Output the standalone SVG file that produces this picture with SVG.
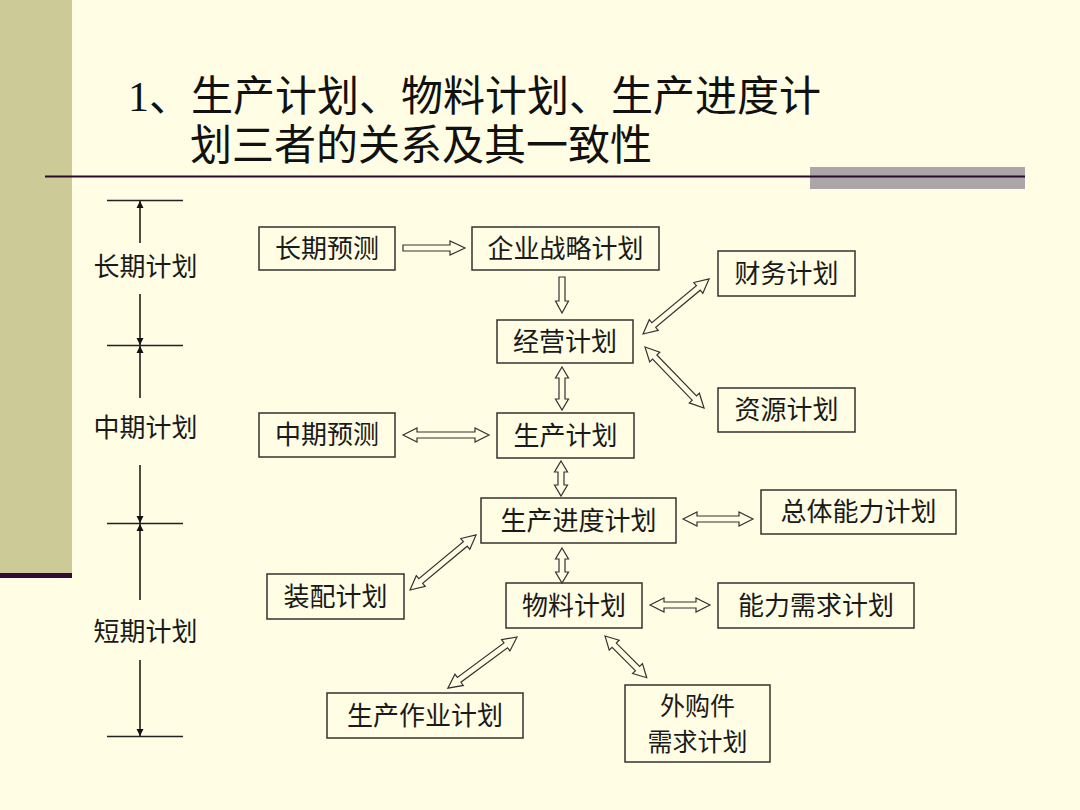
<svg xmlns="http://www.w3.org/2000/svg" width="1080" height="810" viewBox="0 0 1080 810">
<defs>
<style>
.box{fill:none;stroke:#333;stroke-width:1.5}
.t{font-family:"Noto Sans CJK SC","Liberation Sans",sans-serif;font-size:26px;fill:#1a1a1a;text-anchor:middle}
.t2{font-size:25px}
.title{font-family:"Liberation Serif","Noto Sans CJK SC",serif;font-size:42px;fill:#111}
.ar{fill:#FFFDE3;stroke:#333;stroke-width:1.2;stroke-linejoin:miter}
.tl{stroke:#111;stroke-width:1.5;fill:none}
.tk{stroke:#222;stroke-width:1.3}
</style>
<marker id="tri" viewBox="0 0 10 10" refX="10" refY="5" markerWidth="7" markerHeight="10" markerUnits="userSpaceOnUse" orient="auto"><path d="M0,0 L10,5 L0,10 Z" fill="#111"/></marker>
</defs>
<rect width="1080" height="810" fill="#FFFDE3"/>
<rect x="0" y="0" width="72" height="574" fill="#CCCA96"/>
<rect x="0" y="573" width="72" height="5" fill="#330A33"/>
<rect x="810" y="167" width="215" height="22" fill="#ABA6A8"/>
<line x1="45" y1="176.5" x2="1025" y2="176.5" stroke="#2A0A2A" stroke-width="2"/>
<text class="title" x="128" y="111">1、生产计划、物料计划、生产进度计</text>
<text class="title" x="190" y="160">划三者的关系及其一致性</text>

<g id="timeline">
<line class="tk" x1="107" y1="200.5" x2="183" y2="200.5"/>
<line class="tk" x1="107" y1="345.5" x2="183" y2="345.5"/>
<line class="tk" x1="107" y1="523.5" x2="183" y2="523.5"/>
<line class="tk" x1="107" y1="736.5" x2="183" y2="736.5"/>
<line class="tl" x1="140" y1="243" x2="140" y2="201" marker-end="url(#tri)"/>
<line class="tl" x1="140" y1="294" x2="140" y2="345" marker-end="url(#tri)"/>
<line class="tl" x1="140" y1="398" x2="140" y2="346" marker-end="url(#tri)"/>
<line class="tl" x1="140" y1="465" x2="140" y2="523" marker-end="url(#tri)"/>
<line class="tl" x1="140" y1="600" x2="140" y2="524" marker-end="url(#tri)"/>
<line class="tl" x1="140" y1="660" x2="140" y2="736" marker-end="url(#tri)"/>
<text class="t" x="145.5" y="276">长期计划</text>
<text class="t" x="145.5" y="437">中期计划</text>
<text class="t" x="145.5" y="641">短期计划</text>
</g>

<g id="n-changqi-yuce"><rect class="box" x="259" y="227" width="136" height="43"/><text class="t" x="327" y="258">长期预测</text></g>
<g id="n-qiye"><rect class="box" x="472" y="227" width="187" height="43"/><text class="t" x="565.5" y="258">企业战略计划</text></g>
<g id="n-caiwu"><rect class="box" x="718" y="251" width="137" height="45"/><text class="t" x="786.5" y="283">财务计划</text></g>
<g id="n-jingying"><rect class="box" x="497" y="320" width="136" height="43"/><text class="t" x="565" y="351">经营计划</text></g>
<g id="n-ziyuan"><rect class="box" x="718" y="388" width="137" height="44"/><text class="t" x="786.5" y="419">资源计划</text></g>
<g id="n-zhongqi-yuce"><rect class="box" x="259" y="413" width="136" height="44"/><text class="t" x="327" y="444">中期预测</text></g>
<g id="n-shengchan"><rect class="box" x="497" y="413" width="137" height="45"/><text class="t" x="565.5" y="445">生产计划</text></g>
<g id="n-jindu"><rect class="box" x="481" y="498" width="195" height="45"/><text class="t" x="578.5" y="530">生产进度计划</text></g>
<g id="n-zongti"><rect class="box" x="761" y="490" width="195" height="44"/><text class="t" x="858.5" y="521">总体能力计划</text></g>
<g id="n-zhuangpei"><rect class="box" x="267" y="574" width="137" height="45"/><text class="t" x="335.5" y="606">装配计划</text></g>
<g id="n-wuliao"><rect class="box" x="506" y="583" width="136" height="45"/><text class="t" x="574" y="615">物料计划</text></g>
<g id="n-nengli"><rect class="box" x="718" y="583" width="196" height="45"/><text class="t" x="816" y="615">能力需求计划</text></g>
<g id="n-zuoye"><rect class="box" x="327" y="693" width="196" height="45"/><text class="t" x="425" y="725">生产作业计划</text></g>
<g id="n-waigou"><rect class="box" x="625" y="685" width="145" height="77"/><text class="t t2" x="697.5" y="715">外购件</text><text class="t t2" x="697.5" y="751">需求计划</text></g>

<g id="connectors">
<path class="ar" transform="translate(403,248)" d="M0,-3 L47,-3 L47,-7 L62,0 L47,7 L47,3 L0,3 Z"/>
<path class="ar" transform="translate(562,277) rotate(90)" d="M0,-3 L24,-3 L24,-6.5 L36,0 L24,6.5 L24,3 L0,3 Z"/>
<path class="ar" transform="translate(643,334) rotate(-39.8)" d="M0,0 L14,-7 L14,-3 L72,-3 L72,-7 L86,0 L72,7 L72,3 L14,3 L14,7 Z"/>
<path class="ar" transform="translate(645,347) rotate(46)" d="M0,0 L14,-7 L14,-3 L71,-3 L71,-7 L85,0 L71,7 L71,3 L14,3 L14,7 Z"/>
<path class="ar" transform="translate(562,367) rotate(90)" d="M0,0 L11,-6.5 L11,-3 L32,-3 L32,-6.5 L43,0 L32,6.5 L32,3 L11,3 L11,6.5 Z"/>
<path class="ar" transform="translate(403,435)" d="M0,0 L14,-7 L14,-3 L72,-3 L72,-7 L86,0 L72,7 L72,3 L14,3 L14,7 Z"/>
<path class="ar" transform="translate(561,461) rotate(90)" d="M0,0 L11,-6.5 L11,-3 L24,-3 L24,-6.5 L35,0 L24,6.5 L24,3 L11,3 L11,6.5 Z"/>
<path class="ar" transform="translate(683,519)" d="M0,0 L14,-7 L14,-3 L56,-3 L56,-7 L70,0 L56,7 L56,3 L14,3 L14,7 Z"/>
<path class="ar" transform="translate(410,590) rotate(-39.8)" d="M0,0 L14,-7 L14,-3 L72,-3 L72,-7 L86,0 L72,7 L72,3 L14,3 L14,7 Z"/>
<path class="ar" transform="translate(562,548) rotate(90)" d="M0,0 L11,-6.5 L11,-3 L24,-3 L24,-6.5 L35,0 L24,6.5 L24,3 L11,3 L11,6.5 Z"/>
<path class="ar" transform="translate(650,605)" d="M0,0 L14,-7 L14,-3 L46,-3 L46,-7 L60,0 L46,7 L46,3 L14,3 L14,7 Z"/>
<path class="ar" transform="translate(517,637) rotate(143.5)" d="M0,0 L14,-7 L14,-3 L72,-3 L72,-7 L86,0 L72,7 L72,3 L14,3 L14,7 Z"/>
<path class="ar" transform="translate(605,636) rotate(45)" d="M0,0 L13,-7 L13,-3 L46,-3 L46,-7 L59,0 L46,7 L46,3 L13,3 L13,7 Z"/>
</g>
</svg>
